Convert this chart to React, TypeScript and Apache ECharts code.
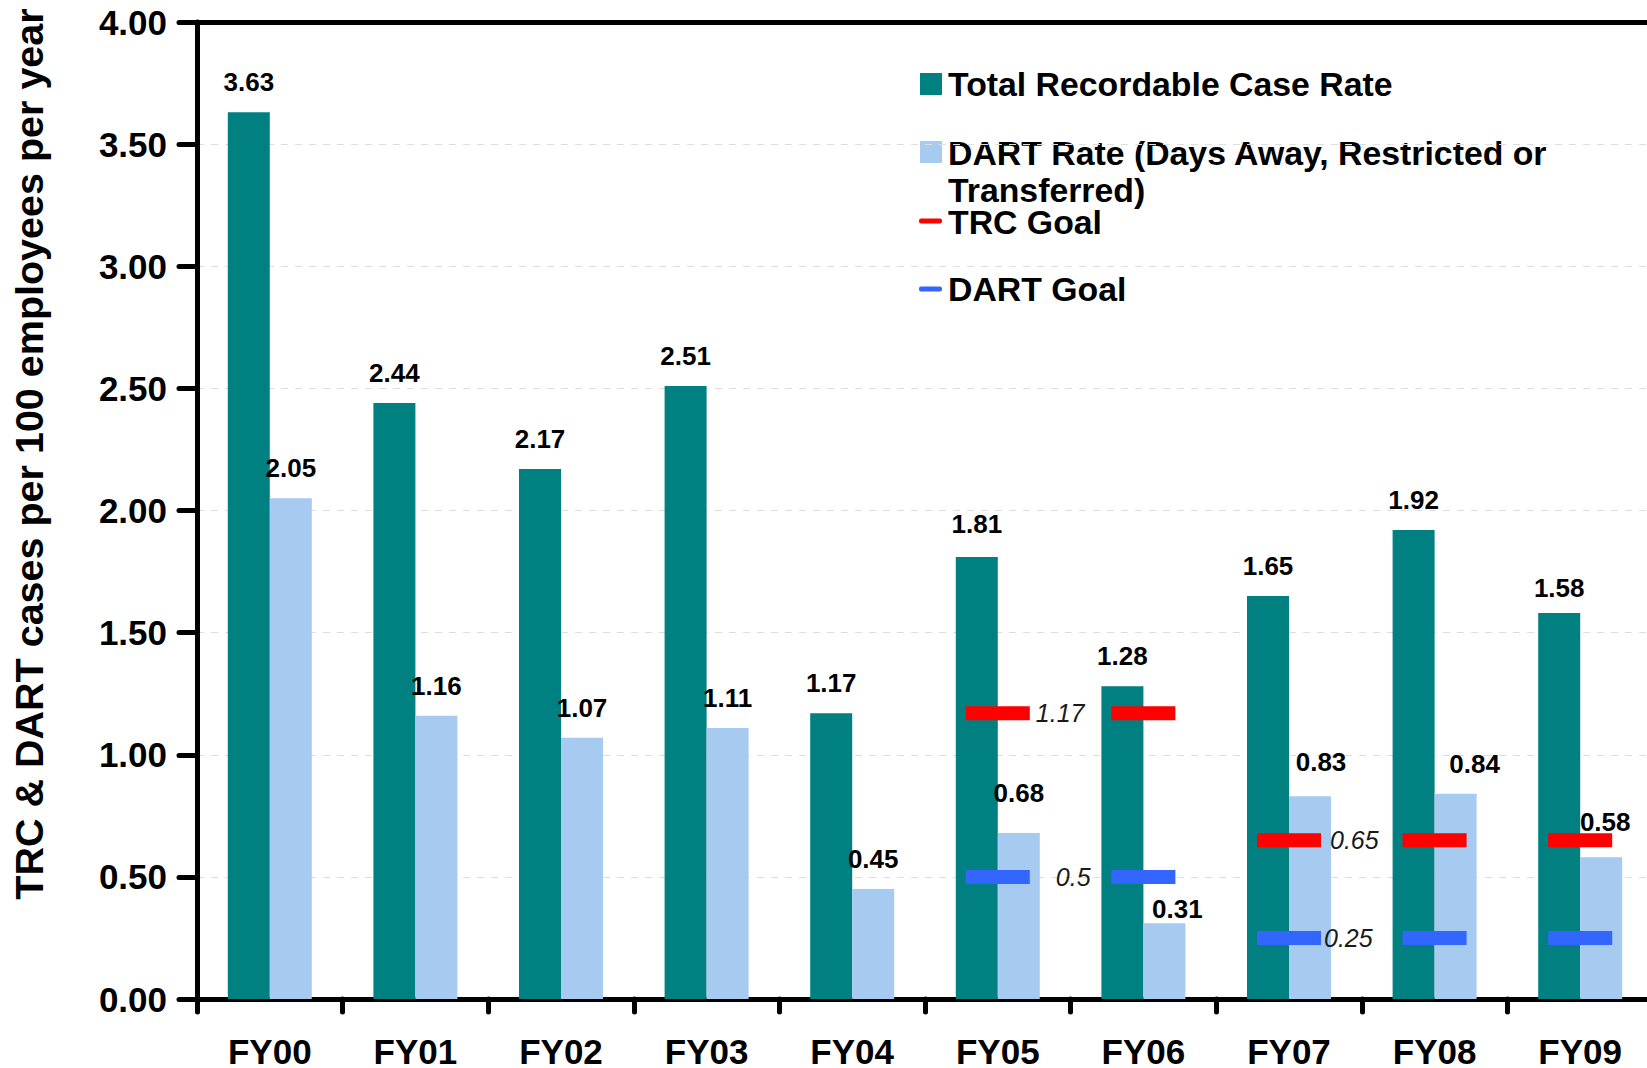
import React, { useEffect, useRef } from "react";
import * as echarts from "echarts";

const categories = ["FY00", "FY01", "FY02", "FY03", "FY04", "FY05", "FY06", "FY07", "FY08", "FY09"];
const trcRate = [3.63, 2.44, 2.17, 2.51, 1.17, 1.81, 1.28, 1.65, 1.92, 1.58];
const dartRate = [2.05, 1.16, 1.07, 1.11, 0.45, 0.68, 0.31, 0.83, 0.84, 0.58];
const trcGoal = [null, null, null, null, null, 1.17, 1.17, 0.65, 0.65, 0.65];
const dartGoal = [null, null, null, null, null, 0.5, 0.5, 0.25, 0.25, 0.25];
const goalLabelIndex = [5, 7];
const yMin = 0;
const yMax = 4;
const yStep = 0.5;

const legendNames = {
  trc: "Total Recordable Case Rate",
  dart: "DART Rate (Days Away, Restricted or\nTransferred)",
  trcGoal: "TRC Goal",
  dartGoal: "DART Goal",
};

// label nudges (style only)
const trcNudge: Record<number, [number, number]> = { 5: [0, -3], 9: [0, 5] };
const dartNudge: Record<number, [number, number]> = {
  5: [0, -10],
  6: [13, 16],
  7: [11, -4],
  8: [19, 0],
  9: [4, -5],
};
const trcGoalLabelDist: Record<number, number> = { 5: 6, 7: 9 };
const dartGoalLabelDist: Record<number, number> = { 5: 26, 7: 3 };

const FONT = "'Liberation Sans', Arial, Helvetica, sans-serif";
const TEAL = "#008080";
const LIGHT = "#A6CAF0";
const RED = "#FF0000";
const BLUE = "#3366FF";

function barData(vals: number[], nudge: Record<number, [number, number]>) {
  return vals.map((v, i) =>
    nudge[i] ? { value: v, label: { offset: nudge[i] } } : { value: v }
  );
}

function goalData(vals: (number | null)[], dist: Record<number, number>) {
  return vals.map((v, i) => {
    if (v == null) return "-";
    if (goalLabelIndex.includes(i)) {
      return {
        value: v,
        label: {
          show: true,
          position: "right",
          distance: dist[i] ?? 6,
          formatter: String(v),
          fontStyle: "italic",
          fontFamily: FONT,
          fontSize: 25,
          color: "#1a1a1a",
        },
      };
    }
    return { value: v };
  });
}

export default function App() {
  const ref = useRef<HTMLDivElement>(null);
  useEffect(() => {
    const chart = echarts.init(ref.current!, null, { renderer: "svg" });
    const valueLabel = {
      show: true,
      position: "top",
      distance: 17,
      fontFamily: FONT,
      fontSize: 26,
      fontWeight: "bold",
      color: "#000",
      formatter: (p: any) => Number(p.value).toFixed(2),
    };
    const legendText = {
      fontFamily: FONT,
      fontSize: 33.8,
      fontWeight: "bold",
      fill: "#000",
    };
    chart.setOption({
      animation: false,
      backgroundColor: "#fff",
      grid: {
        left: 197,
        top: 22,
        bottom: 69,
        width: 1456,
        containLabel: false,
        outerBoundsMode: "none",
      },
      xAxis: [
        {
          type: "category",
          data: categories,
          position: "bottom",
          axisLine: { show: true, lineStyle: { color: "#000", width: 5 } },
          axisTick: { show: true, length: 13, lineStyle: { color: "#000", width: 5, cap: "round" } },
          axisLabel: {
            margin: 39.5,
            lineHeight: 26,
            fontFamily: FONT,
            fontSize: 35,
            fontWeight: "bold",
            color: "#000",
          },
          splitLine: { show: false },
        },
        {
          type: "category",
          data: categories,
          position: "top",
          axisLine: { show: true, lineStyle: { color: "#000", width: 5 } },
          axisTick: { show: false },
          axisLabel: { show: false },
          splitLine: { show: false },
        },
      ],
      yAxis: {
        type: "value",
        min: yMin,
        max: yMax,
        interval: yStep,
        name: "TRC & DART cases per 100 employees per year",
        nameLocation: "middle",
        nameRotate: 90,
        nameGap: 148,
        nameTextStyle: {
          fontFamily: FONT,
          fontSize: 39.5,
          fontWeight: "bold",
          color: "#000",
          padding: [0, 0, 0, 113],
        },
        axisLine: { show: true, lineStyle: { color: "#000", width: 5 } },
        axisTick: { show: true, length: 18, lineStyle: { color: "#000", width: 5, cap: "round" } },
        axisLabel: {
          margin: 30,
          fontFamily: FONT,
          fontSize: 35,
          fontWeight: "bold",
          color: "#000",
          formatter: (v: number) => v.toFixed(2),
        },
        splitLine: { show: true, lineStyle: { color: "#dedede", width: 1, type: [7, 7] } },
      },
      series: [
        {
          name: legendNames.trc,
          type: "bar",
          data: barData(trcRate, trcNudge),
          barWidth: 42,
          barGap: "0%",
          itemStyle: { color: TEAL },
          label: valueLabel,
          z: 2,
        },
        {
          name: legendNames.dart,
          type: "bar",
          data: barData(dartRate, dartNudge),
          barWidth: 42,
          barGap: "0%",
          itemStyle: { color: LIGHT },
          label: valueLabel,
          z: 2,
        },
        {
          name: legendNames.trcGoal,
          type: "scatter",
          data: goalData(trcGoal, trcGoalLabelDist),
          symbol: "rect",
          symbolSize: [64, 14],
          itemStyle: { color: RED, opacity: 1 },
          label: { show: false },
          z: 3,
        },
        {
          name: legendNames.dartGoal,
          type: "scatter",
          data: goalData(dartGoal, dartGoalLabelDist),
          symbol: "rect",
          symbolSize: [64, 14],
          itemStyle: { color: BLUE, opacity: 1 },
          label: { show: false },
          z: 3,
        },
      ],
      graphic: [
        {
          type: "group",
          z: 100,
          children: [
            { type: "rect", shape: { x: 814, y: 30, width: 850, height: 290 }, style: { fill: "#fff" } },
            { type: "rect", shape: { x: 920, y: 73, width: 22, height: 22 }, style: { fill: TEAL } },
            {
              type: "text",
              x: 948,
              y: 84,
              style: { ...legendText, text: legendNames.trc, verticalAlign: "middle", lineHeight: 30 },
            },
            { type: "rect", shape: { x: 920, y: 141, width: 22, height: 22 }, style: { fill: LIGHT } },
            {
              type: "text",
              x: 948,
              y: 134,
              style: { ...legendText, text: legendNames.dart, verticalAlign: "top", lineHeight: 37.5 },
            },
            { type: "rect", shape: { x: 919, y: 218.5, width: 23, height: 5, r: 2 }, style: { fill: RED } },
            {
              type: "text",
              x: 948,
              y: 222,
              style: { ...legendText, text: legendNames.trcGoal, verticalAlign: "middle", lineHeight: 28 },
            },
            { type: "rect", shape: { x: 919, y: 286.5, width: 23, height: 5, r: 2 }, style: { fill: BLUE } },
            {
              type: "text",
              x: 948,
              y: 289,
              style: { ...legendText, text: legendNames.dartGoal, verticalAlign: "middle", lineHeight: 30 },
            },
          ],
        },
      ],
    });
    return () => chart.dispose();
  }, []);
  return (
    <div
      ref={ref}
      style={{ position: "fixed", left: 0, top: 0, width: 1647, height: 1068, background: "#fff" }}
    />
  );
}
